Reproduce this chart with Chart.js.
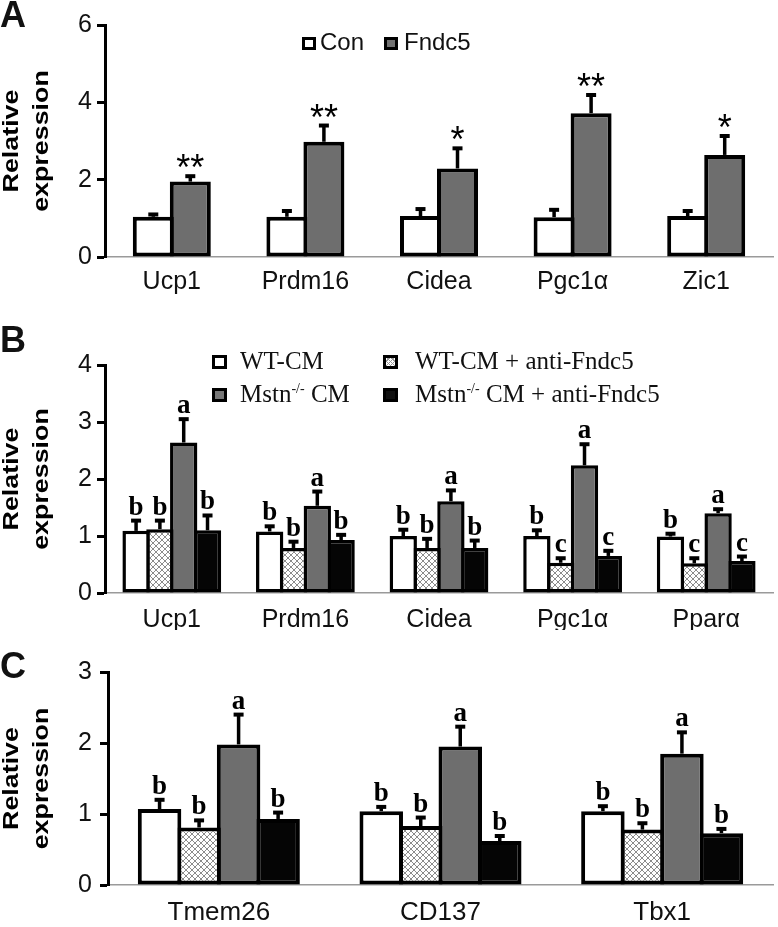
<!DOCTYPE html>
<html>
<head>
<meta charset="utf-8">
<script src="https://cdn.jsdelivr.net/npm/chart.js@4"></script>
<style>
  body { margin: 0; background: #fff; }
  #wrap { position: relative; width: 778px; height: 927px; overflow: hidden; font-family: "Liberation Sans", Arial, sans-serif; color: #111; }
  .panel { position: absolute; left: 0; width: 778px; }
  .letter { position: absolute; left: 0; font: bold 36px "Liberation Sans", Arial, sans-serif; line-height: 36px; }
  .lg { position: absolute; height: 30px; line-height: 30px; white-space: nowrap; }
  .sans { font: 24px "Liberation Sans", Arial, sans-serif; }
  .serif { font: 25px "Liberation Serif", "Times New Roman", serif; }
  .box { position: absolute; box-sizing: border-box; border: 3px solid #000; }
  .hatch { background-color: #fff;
    background-image: repeating-linear-gradient(45deg, #999 0 1px, transparent 1px 3px),
                      repeating-linear-gradient(-45deg, #999 0 1px, transparent 1px 3px); }
  sup { font-size: 14px; vertical-align: 9px; line-height: 0; }
</style>
</head>
<body>
<div id="wrap">
  <div class="panel" style="top:0;height:300px"><canvas id="chartA" width="778" height="300"></canvas></div>
  <div class="panel" style="top:300px;height:330px"><canvas id="chartB" width="778" height="330"></canvas></div>
  <div class="panel" style="top:630px;height:297px"><canvas id="chartC" width="778" height="297"></canvas></div>

  <div class="letter" style="top:-3px">A</div>
  <div class="letter" style="top:322px">B</div>
  <div class="letter" style="top:648px">C</div>

  <!-- legend A -->
  <div class="box" style="left:302px;top:37px;width:14px;height:13px;background:#fff"></div>
  <div class="lg sans" style="left:320px;top:28px">Con</div>
  <div class="box" style="left:384px;top:37px;width:14px;height:13px;background:#707070"></div>
  <div class="lg sans" style="left:404px;top:28px">Fndc5</div>

  <!-- legend B -->
  <div class="box" style="left:212px;top:355px;width:15px;height:14px;background:#fff"></div>
  <div class="lg serif" style="left:240px;top:347px">WT-CM</div>
  <div class="box hatch" style="left:383px;top:355px;width:15px;height:14px"></div>
  <div class="lg serif" style="left:415px;top:347px">WT-CM + anti-Fndc5</div>
  <div class="box" style="left:212px;top:388px;width:15px;height:14px;background:#777"></div>
  <div class="lg serif" style="left:240px;top:380px">Mstn<sup>-/-</sup> CM</div>
  <div class="box" style="left:383px;top:388px;width:15px;height:14px;background:#111"></div>
  <div class="lg serif" style="left:415px;top:380px">Mstn<sup>-/-</sup> CM + anti-Fndc5</div>
</div>

<script>
// Panel A: Con vs Fndc5
const catsA = ['Ucp1', 'Prdm16', 'Cidea', 'Pgc1α', 'Zic1'];
const conA = [1.04, 1.04, 1.06, 1.03, 1.06];
const conErrA = [0.06, 0.15, 0.18, 0.19, 0.13];
const fndc5A = [1.95, 2.98, 2.29, 3.72, 2.64];
const fndc5ErrA = [0.14, 0.42, 0.52, 0.47, 0.49];
const starsA = ['**', '**', '*', '**', '*'];

// Panel B: conditioned media
const catsB = ['Ucp1', 'Prdm16', 'Cidea', 'Pgc1α', 'Pparα'];
const wtB = [1.09, 1.08, 1.00, 1.00, 0.99];
const wtErrB = [0.18, 0.09, 0.11, 0.10, 0.05];
const wtAbB = [1.12, 0.79, 0.79, 0.53, 0.52];
const wtAbErrB = [0.15, 0.11, 0.16, 0.08, 0.09];
const mstnB = [2.64, 1.53, 1.61, 2.24, 1.40];
const mstnErrB = [0.41, 0.25, 0.19, 0.37, 0.07];
const mstnAbB = [1.10, 0.93, 0.79, 0.65, 0.56];
const mstnAbErrB = [0.26, 0.09, 0.13, 0.09, 0.08];
const wtLetB = ['b', 'b', 'b', 'b', 'b'];
const wtAbLetB = ['b', 'b', 'b', 'c', 'c'];
const mstnLetB = ['a', 'a', 'a', 'a', 'a'];
const mstnAbLetB = ['b', 'b', 'b', 'c', 'c'];

// Panel C: beige markers
const catsC = ['Tmem26', 'CD137', 'Tbx1'];
const wtC = [1.07, 1.04, 1.04];
const wtErrC = [0.13, 0.06, 0.07];
const wtAbC = [0.81, 0.83, 0.78];
const wtAbErrC = [0.10, 0.12, 0.09];
const mstnC = [1.98, 1.95, 1.85];
const mstnErrC = [0.42, 0.28, 0.30];
const mstnAbC = [0.93, 0.62, 0.73];
const mstnAbErrC = [0.09, 0.07, 0.06];
const wtLetC = ['b', 'b', 'b'];
const wtAbLetC = ['b', 'b', 'b'];
const mstnLetC = ['a', 'a', 'a'];
const mstnAbLetC = ['b', 'b', 'b'];

Chart.defaults.font.family = '"Liberation Sans", Arial, sans-serif';
Chart.defaults.color = '#111';

const GREY = '#6e6e6e';
const BLACK = '#050505';

function hatchPattern(ctx) {
  const c = document.createElement('canvas');
  c.width = 6; c.height = 6;
  const g = c.getContext('2d');
  g.fillStyle = '#fff'; g.fillRect(0, 0, 6, 6);
  g.strokeStyle = '#8c8c8c'; g.lineWidth = 1;
  g.beginPath();
  g.moveTo(0, 0); g.lineTo(6, 6);
  g.moveTo(0, 6); g.lineTo(6, 0);
  g.stroke();
  return ctx.createPattern(c, 'repeat');
}

// error bars, significance marks and the two-line y title
const marks = {
  id: 'marks',
  afterDatasetsDraw(chart, args, opts) {
    const ctx = chart.ctx, y = chart.scales.y, area = chart.chartArea;
    ctx.save();
    chart.data.datasets.forEach((ds, i) => {
      chart.getDatasetMeta(i).data.forEach((bar, j) => {
        const top = y.getPixelForValue(ds.data[j] + opts.errs[i][j]);
        ctx.strokeStyle = '#000';
        ctx.lineWidth = 3.5;
        ctx.beginPath(); ctx.moveTo(bar.x, bar.y); ctx.lineTo(bar.x, top); ctx.stroke();
        ctx.lineWidth = 4;
        ctx.beginPath(); ctx.moveTo(bar.x - 5, top); ctx.lineTo(bar.x + 5, top); ctx.stroke();
        const t = opts.labels[i][j];
        if (t) {
          ctx.font = opts.font;
          ctx.fillStyle = '#000';
          ctx.textAlign = 'center';
          ctx.textBaseline = 'alphabetic';
          const m = ctx.measureText(t);
          ctx.fillText(t, bar.x, top - opts.gap - m.actualBoundingBoxDescent);
        }
      });
    });
    const cy = (area.top + area.bottom) / 2;
    ctx.font = 'bold 22px "Liberation Sans", Arial, sans-serif';
    ctx.fillStyle = '#000';
    ctx.textAlign = 'center';
    ctx.textBaseline = 'alphabetic';
    [['Relative', 18], ['expression', 48]].forEach(([txt, bx]) => {
      ctx.save();
      ctx.translate(bx, cy);
      ctx.rotate(-Math.PI / 2);
      ctx.scale(1.22, 1);
      ctx.fillText(txt, 0, 0);
      ctx.restore();
    });
    ctx.restore();
  }
};

function makeChart(id, cats, datasets, errs, labels, o) {
  const ctx = document.getElementById(id).getContext('2d');
  new Chart(ctx, {
    type: 'bar',
    data: {
      labels: cats,
      datasets: datasets.map(d => ({
        data: d.data,
        backgroundColor: d.fill === 'hatch' ? hatchPattern(ctx) : d.fill,
        borderColor: '#000',
        borderWidth: o.bw,
        borderSkipped: false,
        categoryPercentage: o.catPct,
        barPercentage: o.barPct
      }))
    },
    options: {
      responsive: false,
      animation: false,
      layout: { padding: { top: o.padTop, right: 5, left: 0, bottom: 0 } },
      plugins: {
        legend: { display: false },
        tooltip: { enabled: false },
        marks: { errs: errs, labels: labels, font: o.markFont, gap: o.gap }
      },
      scales: {
        x: {
          afterFit: s => { s.height = o.xHeight; },
          grid: { display: false, drawTicks: false },
          border: { display: true, color: '#9a9a9a', width: 1.5 },
          ticks: { font: { size: o.xFont }, color: '#111', padding: o.xPad, maxRotation: 0, autoSkip: false }
        },
        y: {
          min: 0,
          max: o.yMax,
          afterFit: s => { s.width = o.axisX; },
          grid: { drawOnChartArea: false, tickLength: 8, tickWidth: 3, tickColor: '#000' },
          border: { display: true, color: '#000', width: 3 },
          ticks: { stepSize: o.step, font: { size: 25 }, color: '#111', padding: o.yPad }
        }
      }
    },
    plugins: [marks]
  });
}

const serifMark = 'bold 27px "Liberation Serif", "Times New Roman", serif';

makeChart('chartA', catsA,
  [{ data: conA, fill: '#fff' }, { data: fndc5A, fill: GREY }],
  [conErrA, fndc5ErrA],
  [['', '', '', '', ''], starsA],
  { catPct: 0.554, barPct: 1.108, bw: 4, yMax: 6, step: 2, padTop: 25, xHeight: 43, xPad: 10, xFont: 25,
    axisX: 105, yPad: 5, markFont: '36px "Liberation Sans", Arial, sans-serif', gap: 8 });

makeChart('chartB', catsB,
  [{ data: wtB, fill: '#fff' }, { data: wtAbB, fill: 'hatch' }, { data: mstnB, fill: GREY }, { data: mstnAbB, fill: BLACK }],
  [wtErrB, wtAbErrB, mstnErrB, mstnAbErrB],
  [wtLetB, wtAbLetB, mstnLetB, mstnAbLetB],
  { catPct: 0.713, barPct: 1.147, bw: 3.5, yMax: 4, step: 1, padTop: 65, xHeight: 37, xPad: 12, xFont: 25,
    axisX: 105, yPad: 5, markFont: serifMark, gap: 6 });

makeChart('chartC', catsC,
  [{ data: wtC, fill: '#fff' }, { data: wtAbC, fill: 'hatch' }, { data: mstnC, fill: GREY }, { data: mstnAbC, fill: BLACK }],
  [wtErrC, wtAbErrC, mstnErrC, mstnAbErrC],
  [wtLetC, wtAbLetC, mstnLetC, mstnAbLetC],
  { catPct: 0.713, barPct: 1.101, bw: 4, yMax: 3, step: 1, padTop: 42, xHeight: 42, xPad: 12, xFont: 26,
    axisX: 108, yPad: 8, markFont: serifMark, gap: 6 });
</script>
</body>
</html>
